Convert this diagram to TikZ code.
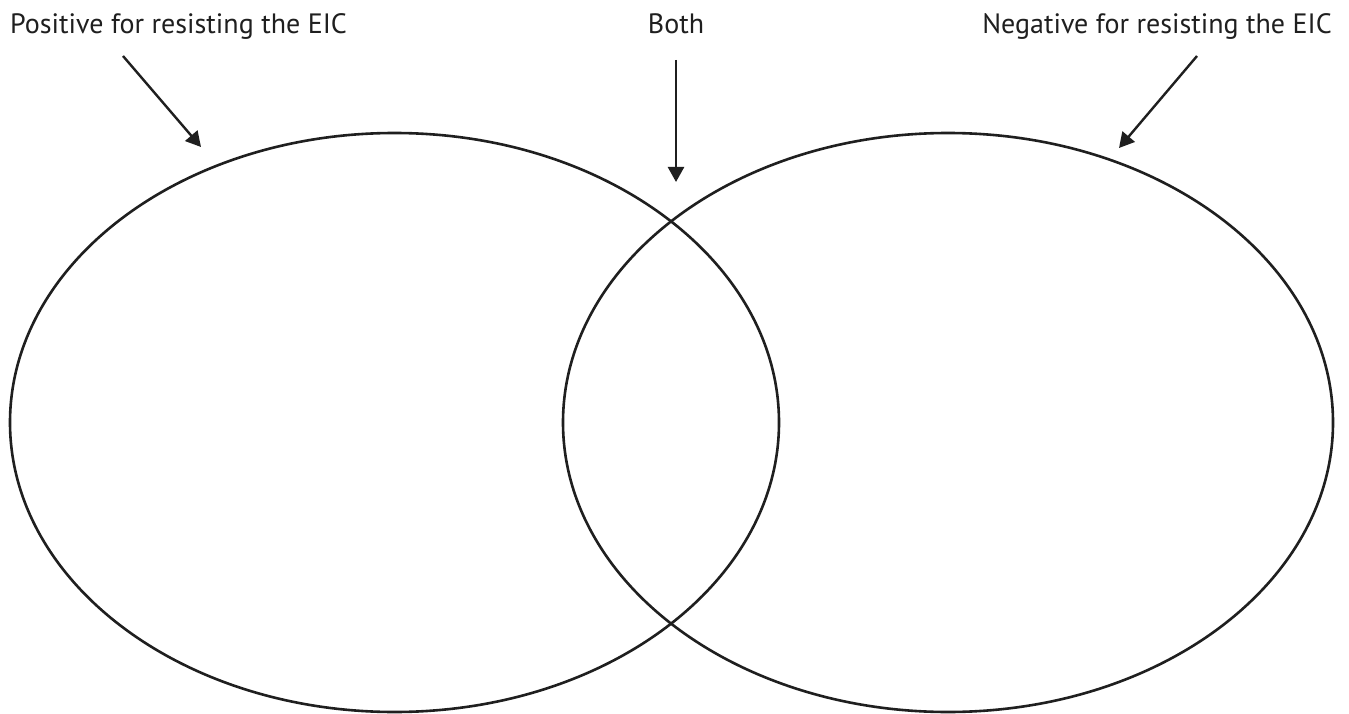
\documentclass[tikz,border=0pt]{standalone}
\usepackage{fontspec}
\setmainfont{PT Sans}
\usetikzlibrary{arrows.meta,shapes.geometric}
\begin{document}
\begin{tikzpicture}[x=1pt,y=-1pt,
  venn/.style={draw=black!88, line width=2.6pt},
  lbl/.style={font=\fontsize{28}{32}\selectfont, text=black!88, inner sep=0pt},
  pointer/.style={draw=black!88, line width=2.4pt, -{Triangle[length=15pt,width=16pt]}}]
\useasboundingbox (0,0) rectangle (1349,714);
\fill[white] (0,0) rectangle (1349,714);
\node[venn, ellipse, minimum width=769pt, minimum height=579pt, inner sep=0pt] (L) at (394.5,422.5) {};
\node[venn, ellipse, minimum width=770pt, minimum height=579pt, inner sep=0pt] (R) at (948,422.5) {};
\node[lbl, anchor=base west] (tp) at (10,34) {Positive for resisting the EIC};
\node[lbl, anchor=base] (tb) at (676,34) {Both};
\node[lbl, anchor=base east] (tn) at (1332,34) {Negative for resisting the EIC};
\coordinate (ap0) at (123,56);
\coordinate (ap1) at (201,147);
\coordinate (ab0) at (676,60);
\coordinate (ab1) at (676,182);
\coordinate (an0) at (1197,56);
\coordinate (an1) at (1119,148);
\draw[pointer] (ap0) -- (ap1);
\draw[pointer] (ab0) -- (ab1);
\draw[pointer] (an0) -- (an1);
\end{tikzpicture}
\end{document}
